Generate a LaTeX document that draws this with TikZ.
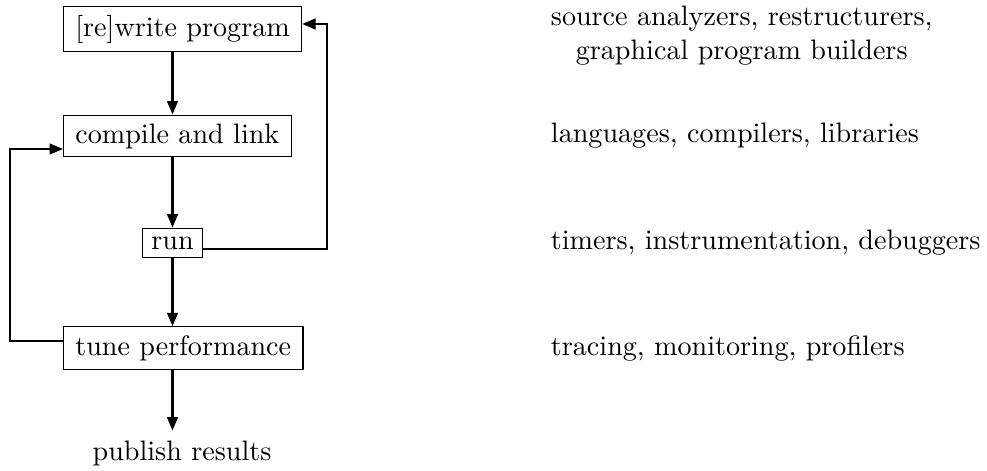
\documentclass[tikz,border=0pt]{standalone}
\usetikzlibrary{arrows.meta,calc}

\tikzset{
	stage/.style={draw,line width=.4pt,inner ysep=3pt,inner xsep=4.2pt,anchor=west},
	tool/.style={anchor=west,align=center},
	flow/.style={-{Triangle[length=4.8pt,width=3.8pt]},line width=.8pt},
}

\begin{document}
\begin{tikzpicture}[x=0.0125cm,y=-0.0125cm]
		\useasboundingbox (0,0) rectangle (987,471);
		
		% Draw stages
		\node[stage] (rewrite) at (63,29)  {[re]write program};
		\node[stage] (compile) at (63,136) {compile and link};
		\node[draw,line width=.4pt,inner sep=3pt] (run) at (172.5,243) {run};
		\node[stage] (tune)    at (63,348) {tune performance};
		\node (publish) at (182,453) {publish results};
		
		% Draw tools
		\foreach \t/\y [count=\i] in {{source analyzers, restructurers,\\graphical program builders}/36,
			{languages, compilers, libraries}/136,
			{timers, instrumentation, debuggers}/243,
			{tracing, monitoring, profilers}/348}{
			\node[tool] (tool\i) at (541,\y) {\t};
		}
		
		% Draw flow
		\draw[flow] (rewrite.south -| run) -- (compile.north -| run);
		\draw[flow] (compile.south -| run) -- (run.north);
		\draw[flow] (run.south) -- (tune.north -| run);
		\draw[flow] (tune.south -| run) -- (publish.north -| run);
		
		% Draw loops
		\draw[flow] ($(run.east)+(0,6)$) -- ++(124,0) |- ($(rewrite.east)+(0,-5)$);
		\draw[flow] ($(tune.west)+(0,-7)$) -- ++(-53,0) |- ($(compile.west)+(0,13)$);
	\end{tikzpicture}
\end{document}
